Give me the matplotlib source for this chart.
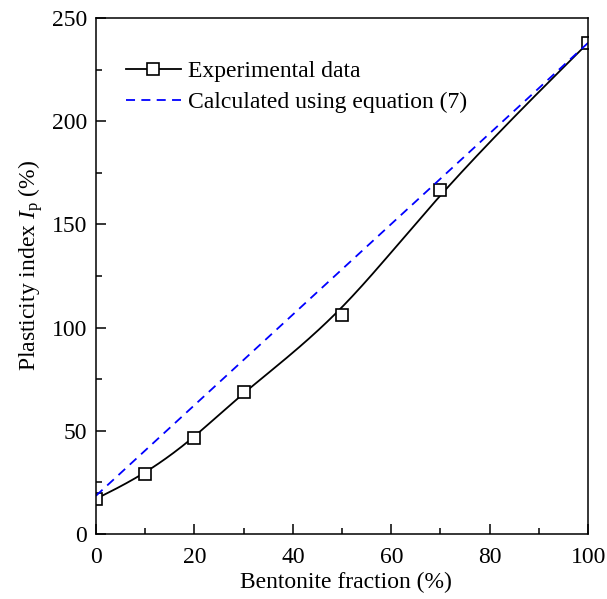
import numpy as np
import matplotlib
matplotlib.use("Agg")
import matplotlib.pyplot as plt
from matplotlib.ticker import MultipleLocator

plt.rcParams['font.family'] = ['Liberation Serif', 'DejaVu Serif']
plt.rcParams['mathtext.fontset'] = 'custom'
plt.rcParams['mathtext.rm'] = 'Liberation Serif'
plt.rcParams['mathtext.it'] = 'Liberation Serif:italic'

# data
bentonite = [0, 10, 20, 30, 50, 70, 100]
ip_exp = [17, 29, 46.5, 69, 106, 166.7, 238]
calc_x = [0, 100]
calc_y = [18.5, 238]


def bspline(x, y, n_seg=60):
    # uniform cubic B-spline with the data as control points (ends clamped),
    # same kind of smooth connector Origin draws
    P = np.column_stack([x, y]).astype(float)
    P = np.vstack([P[:1], P[:1], P, P[-1:], P[-1:]])
    M = np.array([[-1, 3, -3, 1],
                  [3, -6, 3, 0],
                  [-3, 0, 3, 0],
                  [1, 4, 1, 0]]) / 6.0
    pts = []
    t = np.linspace(0, 1, n_seg)
    T = np.column_stack([t**3, t**2, t, np.ones_like(t)])
    for i in range(len(P) - 3):
        pts.append(T @ M @ P[i:i + 4])
    pts = np.vstack(pts)
    return pts[:, 0], pts[:, 1]


fig = plt.figure(figsize=(6.07, 5.99), dpi=100)
ax = fig.add_axes([0.158, 0.1085, 0.811, 0.8615])

cx, cy = bspline(bentonite, ip_exp)
ax.plot(cx, cy, color='black', lw=1.3)
ax.plot(bentonite, ip_exp, ls='none', marker='s', ms=8.5, mfc='white',
        mec='black', mew=1.2)
ax.plot(calc_x, calc_y, color='blue', ls=(0, (5, 3.5)), lw=1.3)

# legend handles
h1, = ax.plot([], [], color='black', lw=1.3, marker='s', ms=8.5, mfc='white',
              mec='black', mew=1.2)
h2, = ax.plot([], [], color='blue', ls=(0, (5, 3.5)), lw=1.3)
ax.legend([h1, h2], ['Experimental data', 'Calculated using equation (7)'],
          loc='upper left', bbox_to_anchor=(0.041, 0.935), frameon=False,
          fontsize=17, handlelength=2.33, handletextpad=0.3, labelspacing=0.38,
          borderaxespad=0)

ax.set_xlim(0, 100)
ax.set_ylim(0, 250)
ax.xaxis.set_major_locator(MultipleLocator(20))
ax.xaxis.set_minor_locator(MultipleLocator(10))
ax.yaxis.set_major_locator(MultipleLocator(50))
ax.yaxis.set_minor_locator(MultipleLocator(25))
ax.tick_params(which='both', direction='in', top=False, right=False,
               labelsize=17, width=1.1)
ax.tick_params(which='major', length=7)
ax.tick_params(which='minor', length=4)
ax.tick_params(axis='x', which='major', pad=9)
ax.tick_params(axis='y', which='major', pad=6.5)
for s in ax.spines.values():
    s.set_linewidth(1.1)

ax.set_xlabel('Bentonite fraction (%)', fontsize=17, labelpad=3)
ax.set_ylabel(r'Plasticity index $\mathit{I}_\mathrm{p}$ (%)', fontsize=17,
              labelpad=5)
ax.xaxis.label.set_x(0.507)
ax.yaxis.label.set_y(0.521)

fig.savefig('out.png', dpi=100)
